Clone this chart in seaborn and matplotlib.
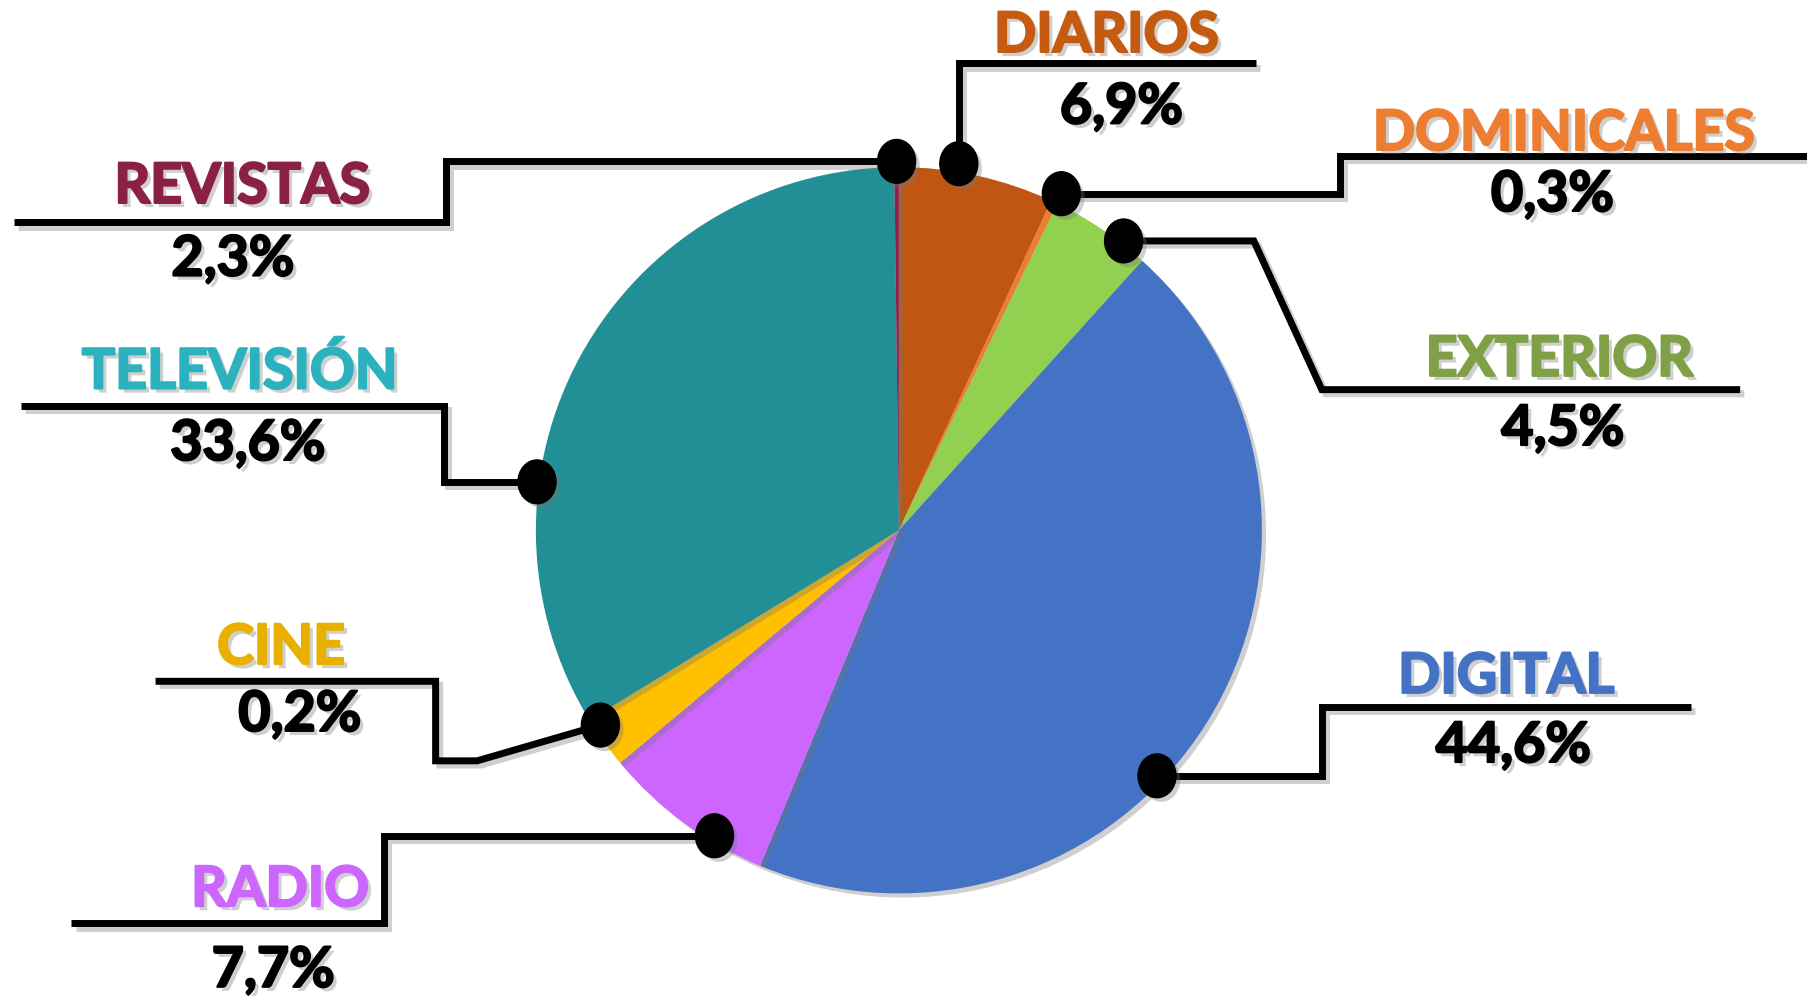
import matplotlib.pyplot as plt
import matplotlib.patheffects as pe
from matplotlib.patches import Ellipse
import seaborn as sns

# Media share data (clockwise from 12 o'clock)
categories = ["DIARIOS", "DOMINICALES", "EXTERIOR", "DIGITAL", "RADIO", "CINE", "TELEVISIÓN", "REVISTAS"]
label_pct = [6.9, 0.3, 4.5, 44.6, 7.7, 0.2, 33.6, 2.3]
slice_pct = [6.9, 0.3, 4.5, 44.6, 7.7, 2.3, 33.6, 0.2]
slice_colors = ["#C05612", "#ED7D31", "#92D050", "#4472C4", "#CC66FF", "#FFC000", "#228F96", "#8B2252"]
label_colors = ["#C55A11", "#ED7D31", "#7FA046", "#4472C4", "#CC66FF", "#E8B100", "#2CB2BE", "#8B2046"]

# Layout in a 1568x864 canvas, y measured from the top
W, H = 1568, 864
CX, CY, R = 780, 460, 315
dot_xy = [(832, 142), (921, 168), (975, 209), (1004, 673), (620, 725), (521, 629), (466, 418), (778, 140)]
leader_pts = [
    [(832, 55), (1090, 55)],
    [(1163, 168), (1163, 135), (1568, 135)],
    [(1088, 209), (1147, 338), (1510, 338)],
    [(1147, 673), (1147, 613), (1467, 613)],
    [(333, 725), (333, 801), (62, 801)],
    [(414, 660), (378, 660), (378, 591), (135, 591)],
    [(385, 418), (385, 352), (18, 352)],
    [(387, 140), (387, 193), (12, 193)],
]
name_xy = [(960, 45), (1357, 130), (1353, 326), (1307, 601), (243, 786), (244, 576), (208, 337), (210, 176)]
pct_xy = [(973, 107), (1347, 183), (1356, 386), (1313, 661), (237, 856), (260, 634), (215, 399), (202, 239)]

sns.set_theme(style="white")
plt.rcParams["font.family"] = ["Lato", "DejaVu Sans"]

fig = plt.figure(figsize=(18.07, 9.96), dpi=100)
ax = fig.add_axes([0, 0, 1, 1])

shadow = [pe.SimplePatchShadow(offset=(3, -3), shadow_rgbFace="#777777", alpha=0.35), pe.Normal()]
line_shadow = [pe.SimpleLineShadow(offset=(3, -3), shadow_color="#777777", alpha=0.35), pe.Normal()]


def text_effects(color):
    # shadow plus a thin stroke to make the bold face a bit heavier
    return [
        pe.SimplePatchShadow(offset=(3, -3), shadow_rgbFace="#777777", alpha=0.35),
        pe.Stroke(linewidth=1.6, foreground=color),
        pe.Normal(),
    ]


wedges, _ = ax.pie(
    slice_pct,
    colors=slice_colors,
    startangle=90,
    counterclock=False,
    center=(CX, H - CY),
    radius=R,
    wedgeprops={"linewidth": 0},
)
for w in wedges:
    w.set_path_effects(shadow)

for i, cat in enumerate(categories):
    pts = [dot_xy[i]] + leader_pts[i]
    xs = [p[0] for p in pts]
    ys = [H - p[1] for p in pts]
    ax.plot(xs, ys, color="black", lw=5, solid_joinstyle="miter", solid_capstyle="butt",
            path_effects=line_shadow, zorder=3)
    dot = Ellipse((dot_xy[i][0], H - dot_xy[i][1]), 33, 38, color="black", zorder=4)
    dot.set_path_effects(shadow)
    ax.add_patch(dot)
    ax.text(name_xy[i][0], H - name_xy[i][1], cat, color=label_colors[i], fontsize=40,
            fontweight="bold", ha="center", va="baseline", path_effects=text_effects(label_colors[i]))
    pct_txt = f"{label_pct[i]:.1f}".replace(".", ",") + "%"
    ax.text(pct_xy[i][0], H - pct_xy[i][1], pct_txt, color="black", fontsize=40,
            fontweight="bold", ha="center", va="baseline", path_effects=text_effects("black"))

ax.set_xlim(0, W)
ax.set_ylim(0, H)
ax.set_aspect("auto")
ax.axis("off")

fig.savefig("out.png", dpi=100, facecolor="white")
